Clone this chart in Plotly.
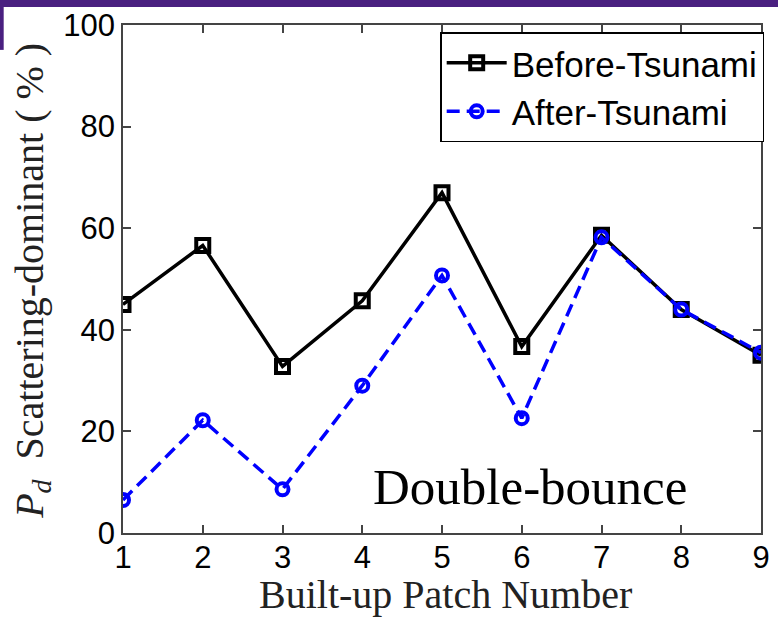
import plotly.graph_objects as go

patches = [1, 2, 3, 4, 5, 6, 7, 8, 9]
before_tsunami = [45.0, 56.6, 32.8, 45.7, 67.0, 36.7, 58.6, 44.0, 35.0]
after_tsunami = [6.5, 22.2, 8.6, 29.0, 50.7, 22.6, 58.2, 44.0, 35.5]
x_ticks = [1, 2, 3, 4, 5, 6, 7, 8, 9]
y_ticks = [0, 20, 40, 60, 80, 100]

fig = go.Figure()
fig.add_trace(go.Scatter(
    x=patches, y=before_tsunami, name="Before-Tsunami", mode="lines+markers",
    line=dict(color="black", width=3.5),
    marker=dict(symbol="square-open", size=13, color="black", line=dict(width=4, color="black")),
))
fig.add_trace(go.Scatter(
    x=patches, y=after_tsunami, name="After-Tsunami", mode="lines+markers",
    line=dict(color="#0000ff", width=3.5, dash="13px,7px"),
    marker=dict(symbol="circle-open", size=12, color="#0000ff", line=dict(width=4, color="#0000ff")),
))

axis_common = dict(
    showline=True, linecolor="#444444", linewidth=1.5, mirror="ticks",
    ticks="inside", ticklen=8, tickcolor="#444444", tickwidth=1.5,
    showgrid=False, zeroline=False,
    tickfont=dict(family="Liberation Sans, Arial", size=31, color="black"),
)

fig.update_layout(
    width=778, height=617,
    margin=dict(l=123, r=8, t=24, b=84),
    paper_bgcolor="white", plot_bgcolor="white",
    xaxis=dict(range=[1, 9], tickvals=x_ticks, ticklabelstandoff=-4, **axis_common),
    yaxis=dict(range=[0, 100], tickvals=y_ticks, **axis_common),
    legend=dict(
        x=1.005, y=0.986, xanchor="right", yanchor="top",
        bordercolor="black", borderwidth=1.5, bgcolor="white",
        font=dict(family="Liberation Sans, Arial", size=35, color="black"),
        itemwidth=60, tracegroupgap=0,
    ),
    showlegend=True,
    shapes=[
        dict(type="rect", xref="paper", yref="paper", x0=-0.2, x1=1.05, y0=1.0354, y1=1.06,
             fillcolor="#4a2080", line=dict(width=0), layer="above"),
        dict(type="rect", xref="paper", yref="paper", x0=-0.2, x1=-0.1870, y0=0.951, y1=1.06,
             fillcolor="#4a2080", line=dict(width=0), layer="above"),
    ],
    annotations=[
        dict(text="Double-bounce", xref="paper", yref="paper", x=0.638, y=0.09,
             xanchor="center", yanchor="middle", showarrow=False,
             font=dict(family="Liberation Serif, Times New Roman", size=51, color="black")),
        dict(text="Built-up Patch Number", xref="paper", yref="paper", x=0.505, y=-0.122,
             xanchor="center", yanchor="middle", showarrow=False,
             font=dict(family="Liberation Serif, Times New Roman", size=40, color="#222222")),
        dict(text="<i>P</i><sub><i>d</i></sub>  Scattering-dominant ( % )", xref="paper", yref="paper",
             x=-0.1437, y=0.497, xanchor="center", yanchor="middle", textangle=-90, showarrow=False,
             font=dict(family="Liberation Serif, Times New Roman", size=40, color="#222222")),
    ],
)

fig.write_html("out.html")
